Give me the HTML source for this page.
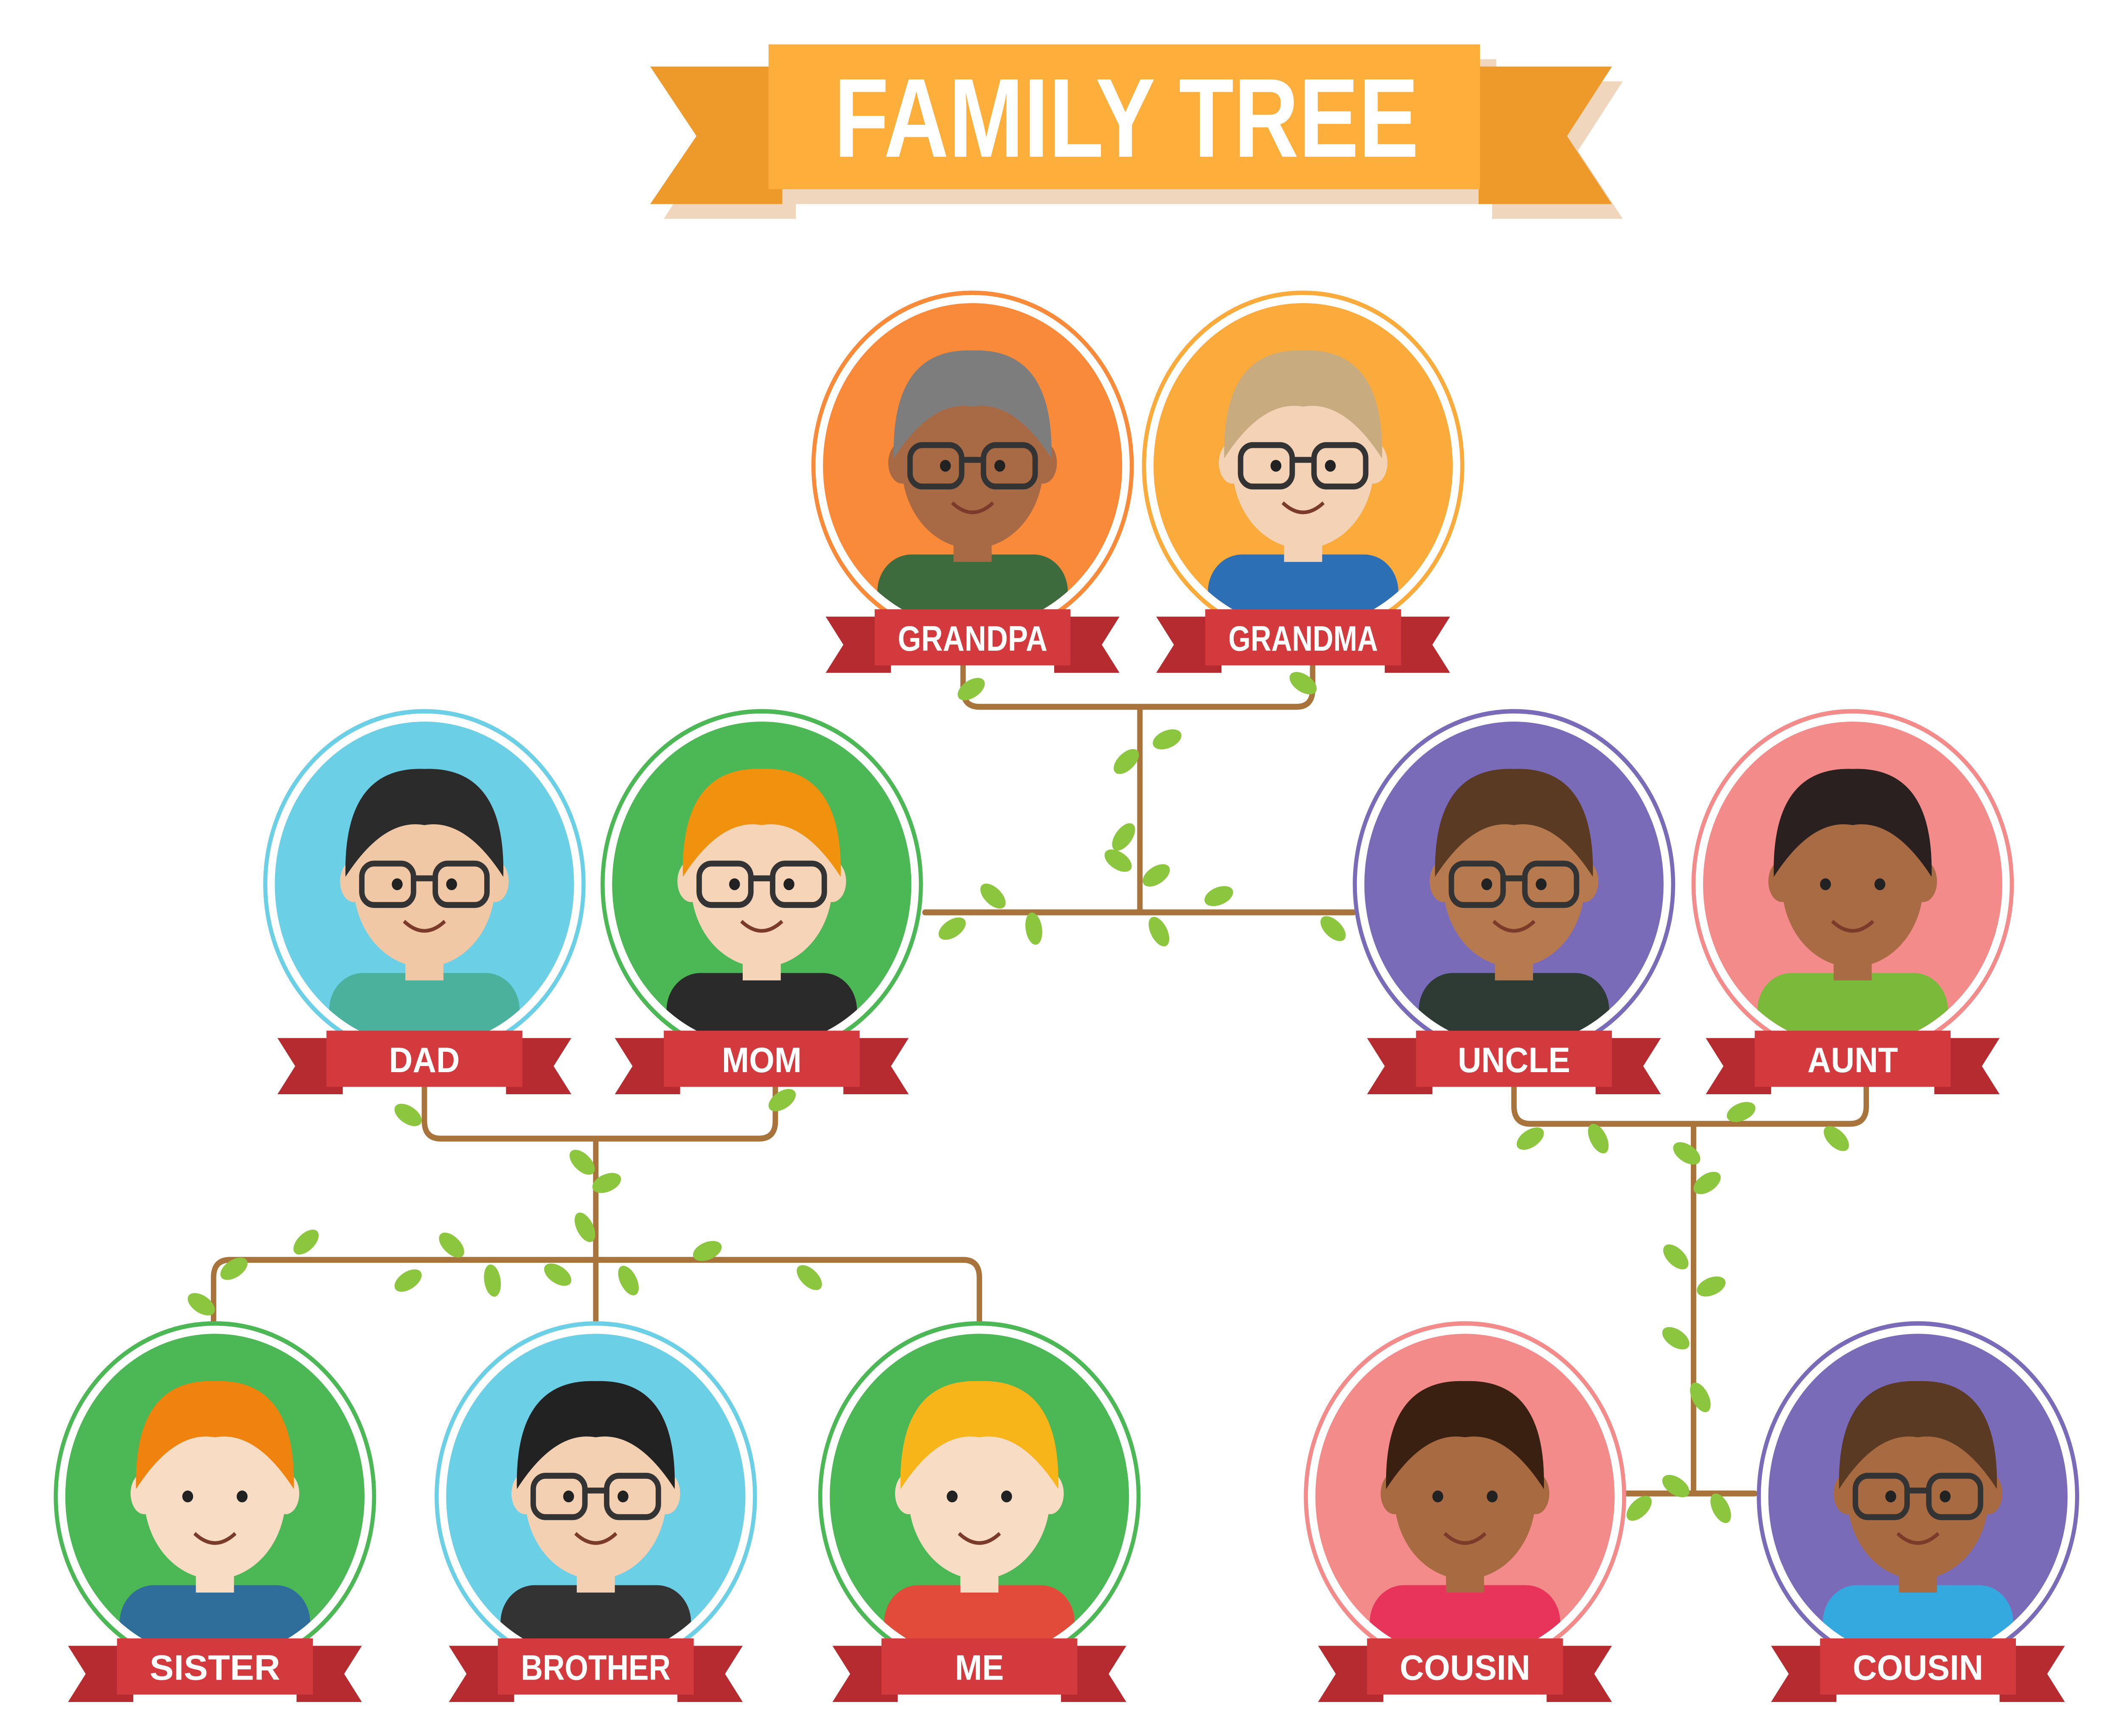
<!DOCTYPE html>
<html><head><meta charset="utf-8"><style>
html,body{margin:0;padding:0;background:#fff;overflow:hidden}
#s{display:block;position:absolute;left:0;top:0;width:100vw;height:100vh}
text{font-family:"Liberation Sans",sans-serif;font-weight:bold;fill:#fff;text-anchor:middle}
</style></head><body>
<svg id="s" viewBox="0 0 1560 1174" preserveAspectRatio="none" xmlns="http://www.w3.org/2000/svg">
<g>
<polygon points="488,55 585,55 585,148 488,148 520,102" fill="#f0d6bc"/>
<polygon points="1097,55 1193,55 1160,102 1193,148 1097,148" fill="#f0d6bc"/>
<rect x="575" y="40" width="525" height="98" fill="#f0d6bc"/>
<polygon points="478,45 575,45 575,138 478,138 512,92" fill="#ee9a2a"/>
<polygon points="1087,45 1185,45 1152,92 1185,138 1087,138" fill="#ee9a2a"/>
<rect x="565" y="30" width="523" height="98" fill="#fdae3b"/>
<text x="828" y="106" font-size="76" textLength="430" lengthAdjust="spacingAndGlyphs">FAMILY TREE</text>
<g fill="none" stroke="#a8743b" stroke-width="4" stroke-linecap="round">
<path d="M708,450 V466 Q708,478 720,478 H953 Q965,478 965,466 V450"/>
<path d="M838,478 V617"/>
<path d="M680,617 H995"/>
<path d="M312,735 V758 Q312,770 324,770 H558 Q570,770 570,758 V735"/>
<path d="M438,770 V893"/>
<path d="M157,893 V864 Q157,852 169,852 H708 Q720,852 720,864 V893"/>
<path d="M1113,735 V748 Q1113,760 1125,760 H1360 Q1372,760 1372,748 V735"/>
<path d="M1245,760 V1010"/>
<path d="M1195,1010 H1290"/>
</g>
<g id="leaves" fill="#8cc63f"></g>
<g id="people"></g>
</g>
</svg>
<script>
var NS="http://www.w3.org/2000/svg";
function el(p,t,a){var e=document.createElementNS(NS,t);for(var k in a)e.setAttribute(k,a[k]);p.appendChild(e);return e;}
var L=document.getElementById('leaves');
[[714,466,-30],[958,462,30],[828,515,-40],[858,500,-20],[822,582,30],[850,592,-30],[826,566,-50],[700,628,-30],[730,606,40],[760,628,80],[852,630,60],[896,606,-20],[980,628,40],
[300,754,30],[575,744,-30],[428,786,40],[446,800,-20],[430,830,60],[225,840,-40],[300,866,-30],[332,842,40],[362,866,80],[410,862,30],[462,866,60],[520,846,-20],[595,864,40],[172,858,-30],[148,882,30],
[1125,770,-30],[1175,770,60],[1280,752,-20],[1350,770,40],[1240,780,30],[1255,800,-30],[1232,850,40],[1258,870,-20],[1232,905,30],[1250,945,60],[1205,1020,-40],[1232,1005,30],[1265,1020,60]
].forEach(function(l){el(L,'ellipse',{cx:l[0],cy:l[1],rx:11,ry:6,transform:'rotate('+l[2]+' '+l[0]+' '+l[1]+')'});});
var P=document.getElementById('people');
var people=[
[715,315,'#f98a3a','#f98a3a','#a86a45','#7d7d7d','#3d6b3d','GRANDPA',412,1],
[958,315,'#fbab3c','#fbab3c','#f3d2b6','#c9ab80','#2d6fb5','GRANDMA',412,1],
[312,598,'#6bcfe6','#6bcfe6','#f0c8a6','#2b2b2b','#4ab29c','DAD',697,1],
[560,598,'#4cb755','#4cb755','#f6d4b8','#f0920e','#2a2a2a','MOM',697,1],
[1113,598,'#7a6bb9','#7a6bb9','#b77a4e','#5a3a22','#2e3b35','UNCLE',697,1],
[1362,598,'#f38b8b','#f38b8b','#a96b44','#2a2020','#7ab93a','AUNT',697,0],
[158,1012,'#4cb755','#4cb755','#f8dcc4','#f0820e','#2f6e9a','SISTER',1108,0],
[438,1012,'#6bcfe6','#6bcfe6','#f3d0b2','#222222','#333333','BROTHER',1108,1],
[720,1012,'#4cb755','#4cb755','#f8dcc4','#f7b51a','#e24a3a','ME',1108,0],
[1077,1012,'#f38b8b','#f38b8b','#a86a40','#3a2010','#e8345a','COUSIN',1108,0],
[1410,1012,'#7a6bb9','#7a6bb9','#a86a40','#5a3a22','#34a9e0','COUSIN',1108,1]];
people.forEach(function(p,i){
 var cx=p[0],cy=p[1];
 el(P,'circle',{cx:cx,cy:cy,r:117,fill:'#fff',stroke:p[3],'stroke-width':3});
 el(P,'circle',{cx:cx,cy:cy,r:110,fill:p[2]});
 var cp=el(P,'clipPath',{id:'c'+i});el(cp,'circle',{cx:cx,cy:cy,r:110});
 var g=el(P,'g',{'clip-path':'url(#c'+i+')'});
 el(g,'rect',{x:cx-70,y:cy+60,width:140,height:80,rx:25,fill:p[6]});
 el(g,'rect',{x:cx-14,y:cy+35,width:28,height:30,fill:p[4]});
 el(g,'ellipse',{cx:cx-52,cy:cy-2,rx:10,ry:14,fill:p[4]});
 el(g,'ellipse',{cx:cx+52,cy:cy-2,rx:10,ry:14,fill:p[4]});
 el(g,'ellipse',{cx:cx,cy:cy,rx:52,ry:56,fill:p[4]});
 el(g,'path',{d:'M'+(cx-58)+','+(cy-5)+' Q'+(cx-60)+','+(cy-80)+' '+cx+','+(cy-78)+' Q'+(cx+60)+','+(cy-80)+' '+(cx+58)+','+(cy-5)+' Q'+(cx+30)+','+(cy-45)+' '+cx+','+(cy-40)+' Q'+(cx-30)+','+(cy-45)+' '+(cx-58)+','+(cy-5)+'Z',fill:p[5]});
 el(g,'circle',{cx:cx-20,cy:cy,r:4,fill:'#222'});
 el(g,'circle',{cx:cx+20,cy:cy,r:4,fill:'#222'});
 if(p[9]){
  el(g,'rect',{x:cx-46,y:cy-14,width:38,height:28,rx:9,fill:'none',stroke:'#333','stroke-width':4});
  el(g,'rect',{x:cx+8,y:cy-14,width:38,height:28,rx:9,fill:'none',stroke:'#333','stroke-width':4});
  el(g,'path',{d:'M'+(cx-8)+','+(cy-4)+' H'+(cx+8),stroke:'#333','stroke-width':4});
 }
 el(g,'path',{d:'M'+(cx-15)+','+(cy+25)+' Q'+cx+','+(cy+38)+' '+(cx+15)+','+(cy+25),fill:'none',stroke:'#7a3b2a','stroke-width':2.5});
 var y=p[8];
 el(P,'polygon',{points:(cx-108)+','+(y+5)+' '+(cx-60)+','+(y+5)+' '+(cx-60)+','+(y+43)+' '+(cx-108)+','+(y+43)+' '+(cx-95)+','+(y+24),fill:'#b52b30'});
 el(P,'polygon',{points:(cx+60)+','+(y+5)+' '+(cx+108)+','+(y+5)+' '+(cx+95)+','+(y+24)+' '+(cx+108)+','+(y+43)+' '+(cx+60)+','+(y+43),fill:'#b52b30'});
 el(P,'rect',{x:cx-72,y:y,width:144,height:38,fill:'#d33a3e'});
 var a={x:cx,y:y+28,'font-size':24};
 if(p[7].length>5){a.textLength=Math.min(110,p[7].length*16);a.lengthAdjust='spacingAndGlyphs';}
 var t=el(P,'text',a);t.textContent=p[7];
});
</script>
</body></html>
